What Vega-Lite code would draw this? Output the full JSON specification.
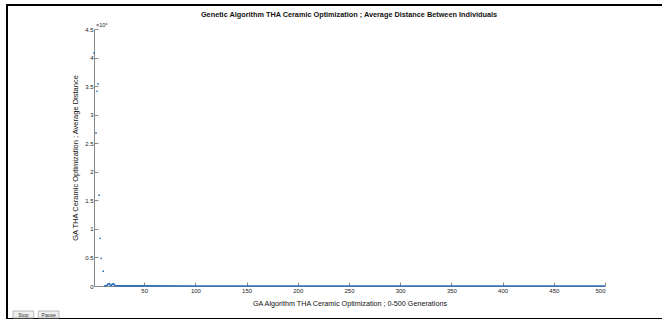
{
  "$schema": "https://vega.github.io/schema/vega-lite/v6.json",
  "autosize": {"type": "none"},
  "padding": {"left": 7, "top": 5, "right": 0, "bottom": 0},
  "width": 656,
  "height": 314,
  "background": "white",
  "config": {
    "view": {"stroke": "black", "strokeWidth": 2},
    "font": "Liberation Sans"
  },
  "title": {
    "text": "Genetic Algorithm THA Ceramic Optimization ; Average Distance Between Individuals",
    "fontSize": 7.3,
    "fontWeight": "bold",
    "color": "#111",
    "anchor": "middle",
    "frame": "group",
    "dx": 14,
    "offset": -13,
    "baseline": "top"
  },
  "datasets": {
    "distance": [
      {"gen": 1, "dist": 40800},
      {"gen": 3, "dist": 26800},
      {"gen": 4, "dist": 34100},
      {"gen": 5, "dist": 35400},
      {"gen": 6, "dist": 15900},
      {"gen": 7, "dist": 8350},
      {"gen": 8, "dist": 4850},
      {"gen": 10, "dist": 2600},
      {"gen": 11, "dist": 100},
      {"gen": 12, "dist": 60},
      {"gen": 13, "dist": 50},
      {"gen": 14, "dist": 150},
      {"gen": 15, "dist": 380},
      {"gen": 16, "dist": 420},
      {"gen": 17, "dist": 150},
      {"gen": 18, "dist": 60},
      {"gen": 19, "dist": 380},
      {"gen": 20, "dist": 420},
      {"gen": 21, "dist": 150},
      {"gen": 22, "dist": 50},
      {"gen": 25, "dist": 30},
      {"gen": 40, "dist": 20},
      {"gen": 100, "dist": 10},
      {"gen": 200, "dist": 5},
      {"gen": 300, "dist": 5},
      {"gen": 400, "dist": 5},
      {"gen": 500, "dist": 5}
    ],
    "buttons": [
      {"label": "Stop"},
      {"label": "Pause"}
    ]
  },
  "layer": [
    {
      "data": {"name": "distance"},
      "layer": [
        {
          "transform": [{"filter": "datum.gen >= 11"}],
          "mark": {"type": "line", "color": "#2a6fb8", "strokeWidth": 1.6, "clip": false},
          "encoding": {
            "x": {"field": "gen", "type": "quantitative"},
            "y": {"field": "dist", "type": "quantitative"}
          }
        },
        {
          "transform": [{"filter": "datum.gen <= 10"}],
          "mark": {"type": "circle", "color": "#2a6fb8", "size": 3, "opacity": 1},
          "encoding": {
            "x": {"field": "gen", "type": "quantitative"},
            "y": {"field": "dist", "type": "quantitative"}
          }
        },
        {
          "transform": [{"filter": "datum.gen == 1"}],
          "mark": {"type": "text", "text": "×10⁴", "align": "left", "baseline": "bottom", "dx": 2, "dy": -1, "fontSize": 5.5, "color": "#222"},
          "encoding": {
            "x": {"datum": 1, "type": "quantitative"},
            "y": {"datum": 45000, "type": "quantitative"}
          }
        }
      ],
      "encoding": {
        "x": {
          "field": "gen",
          "type": "quantitative",
          "scale": {"domain": [1, 500], "range": [87, 598], "nice": false, "zero": false},
          "axis": {
            "title": "GA Algorithm THA Ceramic Optimization ; 0-500 Generations",
            "titleFontSize": 7.2,
            "titleFontWeight": "normal",
            "titleColor": "#111",
            "titlePadding": 6,
            "offset": -33,
            "values": [50, 100, 150, 200, 250, 300, 350, 400, 450, 500],
            "labelFontSize": 6,
            "labelColor": "#222",
            "labelPadding": 5,
            "tickSize": -4,
            "tickColor": "#888",
            "domainColor": "#888",
            "grid": false
          }
        },
        "y": {
          "field": "dist",
          "type": "quantitative",
          "scale": {"domain": [0, 45000], "range": [281, 24], "nice": false},
          "axis": {
            "title": "GA THA Ceramic Optimization ; Average Distance",
            "titleFontSize": 7.5,
            "titleFontWeight": "normal",
            "titleColor": "#111",
            "titlePadding": 5,
            "offset": -87,
            "values": [0, 5000, 10000, 15000, 20000, 25000, 30000, 35000, 40000, 45000],
            "labelExpr": "format(datum.value / 10000, '~g')",
            "labelFontSize": 6,
            "labelColor": "#222",
            "labelPadding": 5,
            "tickSize": -4,
            "tickColor": "#888",
            "domainColor": "#888",
            "grid": false
          }
        }
      }
    },
    {
      "data": {"name": "buttons"},
      "layer": [
        {
          "mark": {"type": "rect", "fill": "#efefef", "stroke": "#a8a8a8", "strokeWidth": 0.8}
        },
        {
          "mark": {"type": "text", "fontSize": 5, "color": "#333", "align": "center", "baseline": "middle"},
          "encoding": {
            "text": {"field": "label"}
          }
        }
      ],
      "encoding": {
        "x": {
          "field": "label",
          "type": "nominal",
          "sort": ["Stop", "Pause"],
          "scale": {"type": "band", "domain": ["Stop", "Pause"], "range": [6, 52], "paddingInner": 0.18, "paddingOuter": 0},
          "axis": null
        },
        "y": {
          "datum": "controls",
          "type": "nominal",
          "scale": {"type": "band", "domain": ["controls"], "range": [306, 313], "paddingInner": 0, "paddingOuter": 0},
          "axis": null
        }
      }
    }
  ],
  "resolve": {"scale": {"x": "independent", "y": "independent"}}
}
